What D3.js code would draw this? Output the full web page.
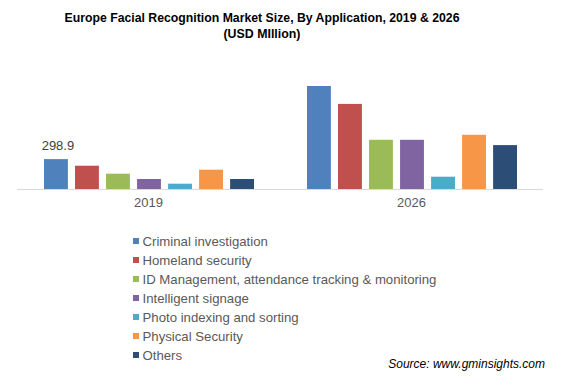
<!DOCTYPE html>
<html><head><meta charset="utf-8">
<script src="https://cdn.jsdelivr.net/npm/d3@7"></script>
<style>body{margin:0;background:#fff}svg{display:block}</style>
</head><body>
<svg id="c" width="565" height="378"></svg>
<script>
const years = ["2019", "2026"];
const segments = ["Criminal investigation","Homeland security","ID Management, attendance tracking & monitoring","Intelligent signage","Photo indexing and sorting","Physical Security","Others"];
const values2019 = [298.9, 233, 153, 100, 53, 193, 100];
const values2026 = [1030, 851, 492, 492, 123, 542, 439];
const colors = ["#4F81BD","#C0504D","#9BBB59","#8064A2","#4BACC6","#F79646","#2C4D75"];
const labelText = "298.9";

const svg = d3.select("#c");
const font = "'Liberation Sans', Arial, sans-serif";

svg.append("text").attr("x",262).attr("y",22).attr("text-anchor","middle")
  .attr("font-family",font).attr("font-weight","bold").attr("font-size",13)
  .attr("textLength",395).attr("lengthAdjust","spacingAndGlyphs").attr("fill","#000")
  .text("Europe Facial Recognition Market Size, By Application, 2019 & 2026");
svg.append("text").attr("x",262).attr("y",38).attr("text-anchor","middle")
  .attr("font-family",font).attr("font-weight","bold").attr("font-size",13)
  .attr("textLength",77).attr("lengthAdjust","spacingAndGlyphs").attr("fill","#000")
  .text("(USD MIllion)");

const x0 = d3.scaleBand().domain(years).range([17,543]);
const x1 = d3.scaleBand().domain(segments).range([27,237]).paddingInner(0.23);
const y = d3.scaleLinear().domain([0,1200]).range([189,69]);

const data = years.map((yr,i)=>({yr, vals: i===0?values2019:values2026}));
const g = svg.append("g");
data.forEach(d=>{
  g.selectAll(null).data(d.vals).enter().append("rect")
    .attr("x",(v,j)=>x0(d.yr)+x1(segments[j]))
    .attr("width",x1.bandwidth())
    .attr("y",v=>y(v)).attr("height",v=>y(0)-y(v))
    .attr("fill",(v,j)=>colors[j]);
});

svg.append("line").attr("x1",17).attr("x2",543).attr("y1",189.5).attr("y2",189.5)
  .attr("stroke","#d9d9d9").attr("stroke-width",1);

const xa = svg.append("g").attr("transform","translate(0,189)")
  .call(d3.axisBottom(x0).tickSize(0).tickPadding(9));
xa.select(".domain").remove();
xa.selectAll("text").attr("font-family",font).attr("font-size",13).attr("fill","#595959");

svg.append("text").attr("x",x0("2019")+x1(segments[0])+x1.bandwidth()/2+2).attr("y",y(values2019[0])-9)
  .attr("text-anchor","middle").attr("font-family",font).attr("font-size",13).attr("fill","#404040")
  .text(labelText);

const leg = svg.append("g");
segments.forEach((s,i)=>{
  const yy = 241 + i*19;
  leg.append("rect").attr("x",133).attr("y",yy-3).attr("width",6).attr("height",6).attr("fill",colors[i]);
  leg.append("text").attr("x",142.5).attr("y",yy+4.5).attr("font-family",font).attr("font-size",13.2)
    .attr("fill","#595959").text(s);
});

svg.append("text").attr("x",545).attr("y",368).attr("text-anchor","end")
  .attr("font-family",font).attr("font-style","italic").attr("font-size",12).attr("fill","#000")
  .text("Source: www.gminsights.com");
</script>
</body></html>
